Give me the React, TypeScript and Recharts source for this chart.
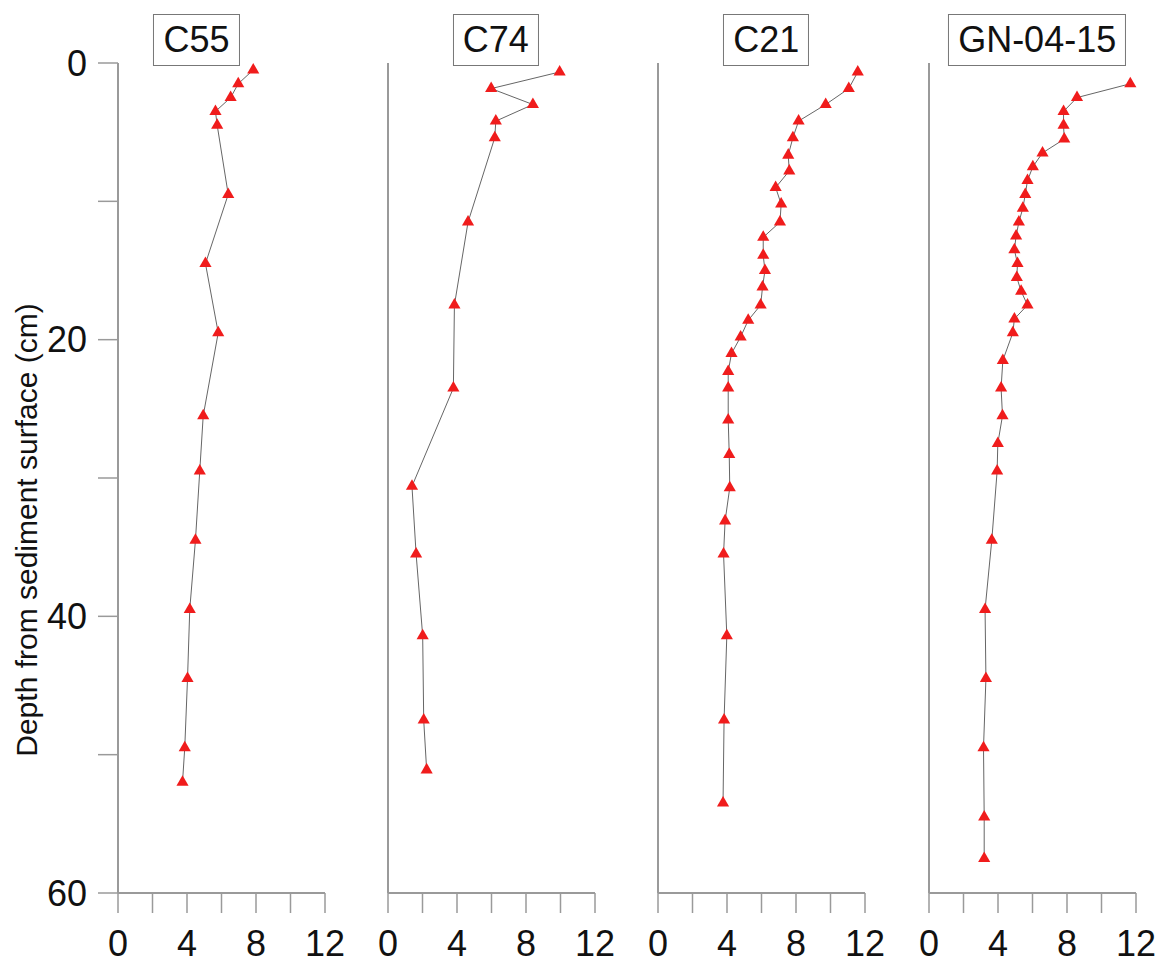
import React from "react";
import {
  ScatterChart,
  Scatter,
  XAxis,
  YAxis,
  ZAxis,
  ReferenceLine,
} from "recharts";

// depth (cm) / value pairs
const c55Depth = [0.5, 1.5, 2.5, 3.5, 4.5, 9.5, 14.5, 19.5, 25.5, 29.5, 34.5, 39.5, 44.5, 49.5, 52];
const c55Value = [7.84, 6.97, 6.53, 5.65, 5.75, 6.39, 5.07, 5.81, 4.94, 4.74, 4.49, 4.16, 4.03, 3.87, 3.74];

const c74Depth = [0.65, 1.85, 3.0, 4.2, 5.4, 11.5, 17.5, 23.5, 30.6, 35.5, 41.4, 47.5, 51.1];
const c74Value = [9.95, 5.98, 8.4, 6.25, 6.19, 4.64, 3.85, 3.79, 1.39, 1.63, 2.01, 2.07, 2.24];

const c21Depth = [
  0.65, 1.85, 3.0, 4.2, 5.4, 6.66, 7.8, 9.0, 10.2, 11.5, 12.6, 13.9, 15.0, 16.2,
  17.5, 18.6, 19.8, 21.0, 22.3, 23.5, 25.8, 28.3, 30.7, 33.1, 35.5, 41.4, 47.5, 53.5,
];
const c21Value = [
  11.58, 11.06, 9.72, 8.15, 7.82, 7.55, 7.61, 6.82, 7.14, 7.07, 6.1, 6.1, 6.2, 6.06,
  5.95, 5.23, 4.79, 4.26, 4.07, 4.07, 4.07, 4.13, 4.16, 3.89, 3.8, 3.99, 3.83, 3.77,
];

const gnDepth = [
  1.5, 2.5, 3.5, 4.5, 5.5, 6.5, 7.5, 8.5, 9.5, 10.5, 11.5, 12.5, 13.5, 14.5, 15.5,
  16.5, 17.5, 18.5, 19.5, 21.5, 23.5, 25.5, 27.5, 29.5, 34.5, 39.5, 44.5, 49.5, 54.5, 57.5,
];
const gnValue = [
  11.67, 8.58, 7.8, 7.8, 7.84, 6.58, 6.02, 5.71, 5.58, 5.44, 5.21, 5.05, 4.95, 5.13, 5.09,
  5.34, 5.71, 4.95, 4.86, 4.28, 4.18, 4.26, 3.99, 3.95, 3.64, 3.25, 3.3, 3.16, 3.2, 3.2,
];

const coreNames = ["C55", "C74", "C21", "GN-04-15"];
const coreDepths = [c55Depth, c74Depth, c21Depth, gnDepth];
const coreValues = [c55Value, c74Value, c21Value, gnValue];

const xTicks = [0, 2, 4, 6, 8, 10, 12];
const yTicks = [0, 10, 20, 30, 40, 50, 60];
const yTitle = "Depth from sediment surface (cm)";

// layout
const X0 = [118, 388, 658, 929];
const PLOT_W = 207;
const PX_PER_UNIT = PLOT_W / 12;
const TITLE_AT = [4.55, 6.25, 6.27, 6.27];
const AXIS = "#9a9a9a";
const FONT = "'Liberation Sans', Arial, sans-serif";

function Panel({ idx }: { idx: number }) {
  const depth = coreDepths[idx];
  const value = coreValues[idx];
  const data = depth.map((d, i) => ({ d, v: value[i] }));
  const first = idx === 0;
  const ml = first ? 0 : 20;
  const yw = first ? X0[0] : 0;
  const width = ml + yw + PLOT_W + 30;
  const left = first ? 0 : X0[idx] - ml;

  return (
    <div style={{ position: "absolute", left, top: 0 }}>
      <ScatterChart
        width={width}
        height={974}
        margin={{ top: 63, right: 30, bottom: 0, left: ml }}
        style={{ fontFamily: FONT }}
      >
        <XAxis
          type="number"
          dataKey="v"
          domain={[0, 12]}
          ticks={xTicks}
          interval={0}
          tickFormatter={(v: number) => (v % 4 === 0 ? String(v) : "")}
          height={81}
          tickSize={20}
          tickMargin={17}
          axisLine={{ stroke: AXIS, strokeWidth: 2 }}
          tickLine={{ stroke: AXIS, strokeWidth: 1.5 }}
          tick={{ fill: "#111", fontSize: 36 }}
        />
        <YAxis
          type="number"
          dataKey="d"
          domain={[0, 60]}
          reversed
          ticks={yTicks}
          interval={0}
          hide={!first}
          width={yw}
          tickFormatter={(v: number) => (v % 20 === 0 ? String(v) : "")}
          tickSize={20}
          tickMargin={11}
          axisLine={{ stroke: AXIS, strokeWidth: 2 }}
          tickLine={{ stroke: AXIS, strokeWidth: 1.5 }}
          tick={{ fill: "#111", fontSize: 36 }}
        />
        <ZAxis range={[50, 50]} />
        {!first && <ReferenceLine x={0} stroke={AXIS} strokeWidth={2} ifOverflow="visible" />}
        <Scatter
          data={data}
          shape="triangle"
          fill="#f01c1c"
          line={{ stroke: "#666", strokeWidth: 1 }}
          isAnimationActive={false}
        />
      </ScatterChart>
      <div
        style={{
          position: "absolute",
          top: 14,
          left: (first ? X0[0] : ml) + TITLE_AT[idx] * PX_PER_UNIT,
          transform: "translateX(-50%)",
          height: 52,
          lineHeight: "50px",
          padding: "0 9px",
          boxSizing: "border-box",
          border: "1px solid #777",
          background: "#fff",
          fontFamily: FONT,
          fontSize: 36,
          whiteSpace: "nowrap",
          color: "#111",
        }}
      >
        {coreNames[idx]}
      </div>
    </div>
  );
}

export default function App() {
  return (
    <div
      style={{
        position: "absolute",
        left: 0,
        top: 0,
        width: 1164,
        height: 974,
        background: "#fff",
        overflow: "hidden",
      }}
    >
      {coreNames.map((_, i) => (
        <Panel key={i} idx={i} />
      ))}
      <div
        style={{
          position: "absolute",
          left: 27,
          top: 530,
          transform: "translate(-50%, -50%) rotate(-90deg)",
          fontFamily: FONT,
          fontSize: 30,
          whiteSpace: "nowrap",
          color: "#111",
        }}
      >
        {yTitle}
      </div>
    </div>
  );
}
